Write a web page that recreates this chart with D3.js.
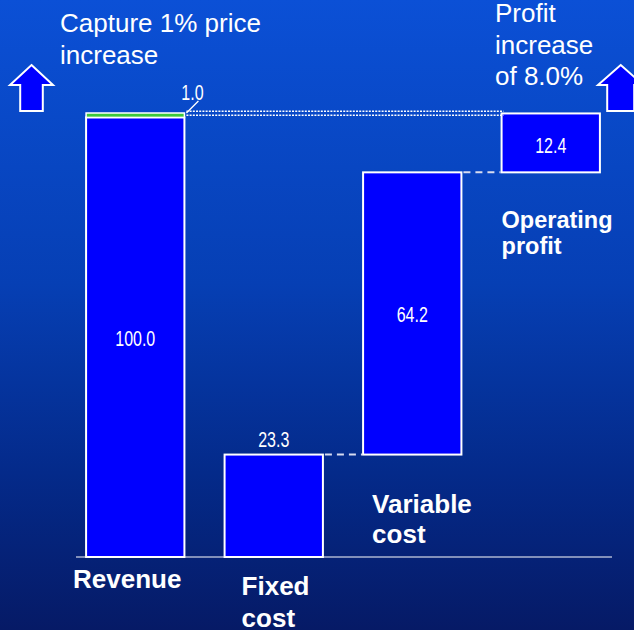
<!DOCTYPE html>
<html>
<head>
<meta charset="utf-8">
<script src="https://d3js.org/d3.v7.min.js"></script>
<style>
  html, body { margin: 0; padding: 0; background: #06196a; }
  svg { display: block; }
</style>
</head>
<body>
<div id="chart"></div>
<script>
// data
const categories = ["Revenue", "Fixed cost", "Variable cost", "Operating profit"];
const bases = [0, 0, 23.3, 87.5];
const values = [100.0, 23.3, 64.2, 12.4];
const priceIncrease = 1.0;
const leftNote = ["Capture 1% price", "increase"];
const rightNote = ["Profit", "increase", "of 8.0%"];

const W = 634, H = 630;
const txtFont = "'Liberation Sans', Arial, sans-serif";

const svg = d3.select("#chart").append("svg")
    .attr("width", W).attr("height", H);

// background gradient
const grad = svg.append("defs").append("linearGradient")
    .attr("id", "bg").attr("x1", 0).attr("y1", 0).attr("x2", 0).attr("y2", 1);
grad.append("stop").attr("offset", "0%").attr("stop-color", "#0b50d6");
grad.append("stop").attr("offset", "45%").attr("stop-color", "#063fb4");
grad.append("stop").attr("offset", "75%").attr("stop-color", "#042a8a");
grad.append("stop").attr("offset", "100%").attr("stop-color", "#061a66");
svg.append("rect").attr("width", W).attr("height", H).attr("fill", "url(#bg)");

// scales
const x = d3.scaleBand().domain(categories).range([66, 620])
    .paddingInner(0.29).paddingOuter(0.145);
const y = d3.scaleLinear().domain([0, 101]).range([557, 113]);

// bar tops (revenue & profit get the price increase on top)
const tops = values.map((v, i) => bases[i] + v + (i === 0 || i === 3 ? priceIncrease : 0));

// axis line
svg.append("line")
    .attr("x1", 76).attr("x2", 612)
    .attr("y1", y(0)).attr("y2", y(0))
    .attr("stroke", "#fff").attr("stroke-width", 1);

// bars
svg.selectAll("rect.bar").data(categories).join("rect")
    .attr("class", "bar")
    .attr("x", d => x(d))
    .attr("width", x.bandwidth())
    .attr("y", (d, i) => y(i === 0 ? values[0] : tops[i]))
    .attr("height", (d, i) => y(bases[i]) - y(i === 0 ? values[0] : tops[i]))
    .attr("fill", "#0000ff")
    .attr("stroke", "#fff").attr("stroke-width", 2);

// green price-increase slice on revenue
svg.append("rect")
    .attr("x", x(categories[0]))
    .attr("width", x.bandwidth())
    .attr("y", y(values[0] + priceIncrease))
    .attr("height", y(values[0]) - y(values[0] + priceIncrease))
    .attr("fill", "#3cc83c")
    .attr("stroke", "#fff").attr("stroke-width", 1.5);

// dotted double line revenue top -> profit
[-1.8, 2.2].forEach(off => {
  svg.append("line")
      .attr("x1", x(categories[0]) + x.bandwidth() + 2)
      .attr("x2", x(categories[3]) + 2)
      .attr("y1", y(tops[0]) + off).attr("y2", y(tops[0]) + off)
      .attr("stroke", "#fff").attr("stroke-width", 1.6)
      .attr("stroke-dasharray", "2,1.2");
});

// dashed connectors
[[1, 2, tops[1]], [2, 3, tops[2]]].forEach(([a, b, v]) => {
  svg.append("line")
      .attr("x1", x(categories[a]) + x.bandwidth() + 2)
      .attr("x2", x(categories[b]) - 1)
      .attr("y1", y(v)).attr("y2", y(v))
      .attr("stroke", "#d8dcf0").attr("stroke-width", 2)
      .attr("stroke-dasharray", "7,5");
});

// value labels (narrow look)
const cx = i => x(categories[i]) + x.bandwidth() / 2;
const numText = (t, px, py) => svg.append("text")
    .attr("transform", `translate(${px},${py}) scale(0.8,1.08)`)
    .attr("text-anchor", "middle")
    .attr("font-family", txtFont).attr("font-size", 20)
    .attr("fill", "#fff").text(t);

numText(values[0].toFixed(1), cx(0), (y(0) + y(values[0])) / 2 + 9);
numText(values[1].toFixed(1), cx(1), y(tops[1]) - 8);
numText(values[2].toFixed(1), cx(2), (y(bases[2]) + y(tops[2])) / 2 + 9);
numText(values[3].toFixed(1), cx(3), (y(bases[3]) + y(tops[3])) / 2 + 10);

// price increase label with leader
const rEdge = x(categories[0]) + x.bandwidth();
svg.append("line")
    .attr("x1", rEdge + 2).attr("y1", y(tops[0]))
    .attr("x2", rEdge + 14).attr("y2", y(tops[0]) - 12)
    .attr("stroke", "#fff").attr("stroke-width", 1.3);
numText(priceIncrease.toFixed(1), rEdge + 8, y(tops[0]) - 13);

// category labels
const catLines = [["Revenue"], ["Fixed", "cost"], ["Variable", "cost"], ["Operating", "profit"]];
const catPos = [
  { x: x(categories[0]) - 13, y: 588, size: 26, lh: 31 },
  { x: x(categories[1]) + 17, y: 595, size: 26, lh: 32 },
  { x: x(categories[2]) + 9,  y: 513, size: 26, lh: 30 },
  { x: x(categories[3]),      y: 228, size: 23.5, lh: 26 }
];
catLines.forEach((lines, i) => {
  const t = svg.append("text")
      .attr("font-family", txtFont).attr("font-weight", "bold")
      .attr("font-size", catPos[i].size).attr("fill", "#fff");
  lines.forEach((l, j) => t.append("tspan")
      .attr("x", catPos[i].x).attr("y", catPos[i].y + j * catPos[i].lh).text(l));
});

// notes
const note = (lines, px, py) => {
  const t = svg.append("text")
      .attr("font-family", txtFont).attr("font-size", 26).attr("fill", "#fff");
  lines.forEach((l, j) => t.append("tspan").attr("x", px).attr("y", py + j * 31.6).text(l));
};
note(leftNote, 60, 32);
note(rightNote, 495, 22);

// up arrows
const arrow = (m, hw, sh) => {
  const top = 65, neck = 85, bot = 111;
  const pts = [[m, top], [m + hw, neck], [m + sh, neck], [m + sh, bot],
               [m - sh, bot], [m - sh, neck], [m - hw, neck]];
  svg.append("path")
      .attr("d", d3.line()(pts) + "Z")
      .attr("fill", "#0000ff").attr("stroke", "#fff").attr("stroke-width", 2)
      .attr("stroke-linejoin", "miter");
};
arrow(31.5, 21.5, 11.3);
arrow(620.7, 22.7, 13.5);
</script>
</body>
</html>
